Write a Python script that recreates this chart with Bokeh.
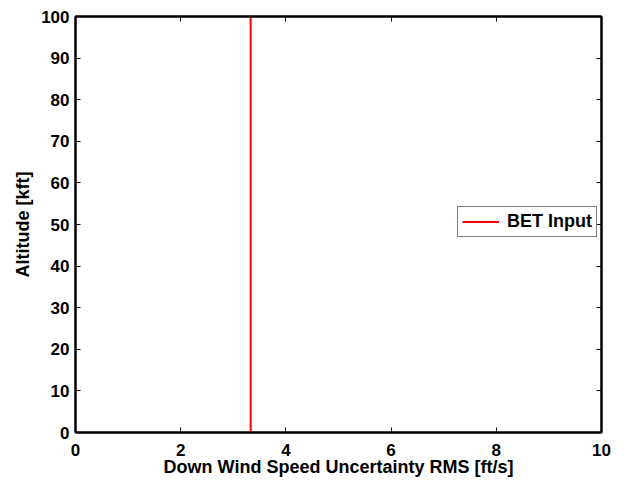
from bokeh.plotting import figure
from bokeh.models import LinearAxis, FixedTicker, Legend, LegendItem, Range1d
from bokeh.embed import file_html
from bokeh.resources import INLINE

# data
series_name = "BET Input"
rms_value = [3.33, 3.33]
altitude = [0, 100]
x_ticks = [0, 2, 4, 6, 8, 10]
y_ticks = [0, 10, 20, 30, 40, 50, 60, 70, 80, 90, 100]

FONT = "Liberation Sans"

p = figure(width=627, height=482, output_backend="svg", toolbar_location=None,
           x_range=Range1d(0, 10), y_range=Range1d(0, 100),
           min_border_left=75, min_border_right=26, min_border_top=16, min_border_bottom=50,
           x_axis_label="Down Wind Speed Uncertainty RMS [ft/s]", y_axis_label="Altitude [kft]")
p.grid.visible = False
p.outline_line_color = "black"
p.outline_line_width = 2
p.background_fill_color = "white"
p.border_fill_color = "white"

r = p.line(rms_value, altitude, line_color="red", line_width=2)

def base_style(ax):
    ax.major_tick_in = 5
    ax.major_tick_out = 0
    ax.minor_tick_in = 0
    ax.minor_tick_out = 0
    ax.axis_line_color = "black"
    ax.axis_line_width = 2
    ax.major_tick_line_width = 1
    ax.major_label_text_font = FONT
    ax.major_label_text_font_style = "bold"
    ax.major_label_text_font_size = "17px"
    ax.major_label_text_color = "black"
    ax.axis_label_text_font = FONT
    ax.axis_label_text_font_style = "bold"
    ax.axis_label_text_font_size = "18px"
    ax.axis_label_text_color = "black"

xa = p.xaxis[0]
base_style(xa)
xa.ticker = FixedTicker(ticks=x_ticks)
xa.major_label_standoff = 11
xa.axis_label_standoff = -2

ya = p.yaxis[0]
base_style(ya)
ya.ticker = FixedTicker(ticks=y_ticks)
ya.major_label_standoff = 6
ya.axis_label_standoff = 5

top = LinearAxis(ticker=FixedTicker(ticks=x_ticks),
                 major_label_overrides={t: "" for t in x_ticks})
right = LinearAxis(ticker=FixedTicker(ticks=y_ticks),
                   major_label_overrides={t: "" for t in y_ticks})
for ax in (top, right):
    base_style(ax)
    ax.major_label_standoff = 0
p.add_layout(top, "above")
p.add_layout(right, "right")

legend = Legend(items=[LegendItem(label=series_name, renderers=[r])],
                location=(382, 195))
legend.label_text_font = FONT
legend.label_text_font_style = "bold"
legend.label_text_font_size = "18px"
legend.label_text_color = "black"
legend.border_line_color = "black"
legend.border_line_width = 1
legend.glyph_width = 37
legend.glyph_height = 19
legend.label_height = 19
legend.padding = 4
legend.margin = 0
legend.spacing = 0
legend.label_standoff = 8
legend.background_fill_alpha = 1
p.add_layout(legend, "center")

open("out.html", "w").write(file_html(p, INLINE))
